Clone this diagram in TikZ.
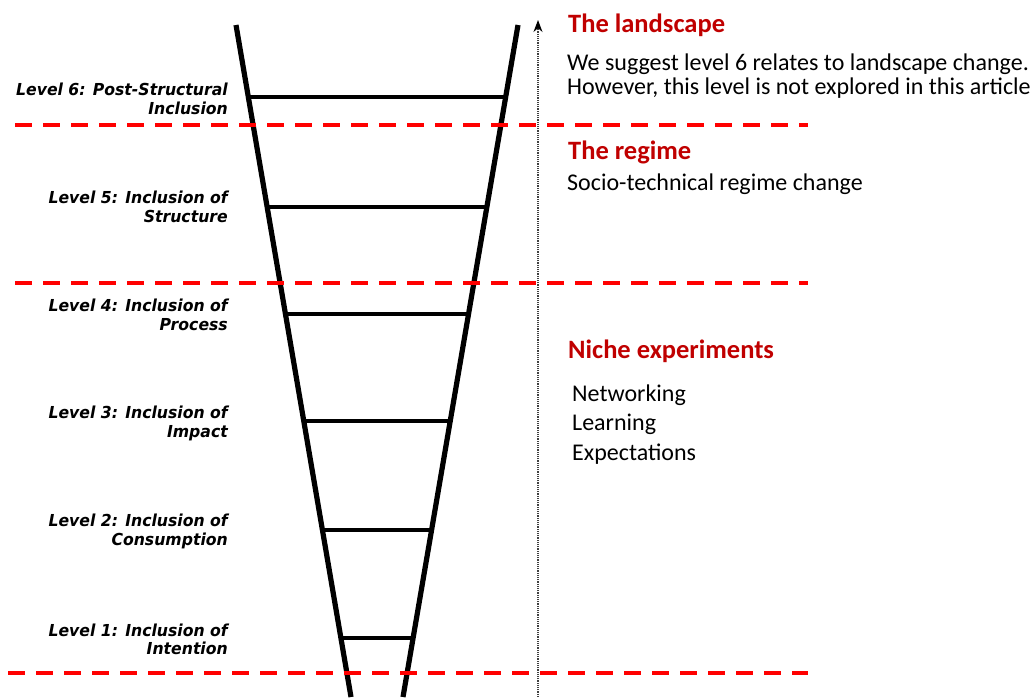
\documentclass[tikz,border=0pt]{standalone}
\usepackage{fontspec}
\setmainfont{Carlito}
\newfontfamily\levelfont[FakeStretch=0.95]{DejaVu Sans}
\usepackage{tikz}
\usetikzlibrary{arrows.meta,calc}
\definecolor{headred}{RGB}{192,0,0}
\definecolor{cutred}{RGB}{255,0,0}

\begin{document}
\begin{tikzpicture}[
  x=1pt,y=-1pt,
  rail/.style={line width=5.2pt},
  rung/.style={line width=4.2pt},
  split/.style={draw=cutred,line width=3.8pt,dash pattern=on 17pt off 11pt},
  level/.style={anchor=east,align=right,inner sep=0pt,
    font=\levelfont\bfseries\itshape\fontsize{16.5}{18.5}\selectfont},
  heading/.style={anchor=base west,inner sep=0pt,text=headred,
    font=\bfseries\fontsize{26.5}{28}\selectfont},
  body/.style={anchor=base west,inner sep=0pt,font=\fontsize{24}{26}\selectfont},
  ]
  \useasboundingbox (0,0) rectangle (1035,697);
  %Rails
  \coordinate (lt) at (236,25);
  \coordinate (lb) at (351,697);
  \coordinate (rt) at (518,25);
  \coordinate (rb) at (403,697);
  \draw[rail] (lt) -- (lb);
  \draw[rail] (rt) -- (rb);
  %Rungs
  \coordinate (l6) at ($(lt)!{72/672}!(lb)$);
  \coordinate (r6) at ($(rt)!{72/672}!(rb)$);
  \coordinate (l5) at ($(lt)!{182/672}!(lb)$);
  \coordinate (r5) at ($(rt)!{182/672}!(rb)$);
  \coordinate (l4) at ($(lt)!{289/672}!(lb)$);
  \coordinate (r4) at ($(rt)!{289/672}!(rb)$);
  \coordinate (l3) at ($(lt)!{396/672}!(lb)$);
  \coordinate (r3) at ($(rt)!{396/672}!(rb)$);
  \coordinate (l2) at ($(lt)!{505/672}!(lb)$);
  \coordinate (r2) at ($(rt)!{505/672}!(rb)$);
  \coordinate (l1) at ($(lt)!{613/672}!(lb)$);
  \coordinate (r1) at ($(rt)!{613/672}!(rb)$);
  \draw[rung] (l6) -- (r6);
  \draw[rung] (l5) -- (r5);
  \draw[rung] (l4) -- (r4);
  \draw[rung] (l3) -- (r3);
  \draw[rung] (l2) -- (r2);
  \draw[rung] (l1) -- (r1);
  %Level labels
  \node[level] (lv6) at (228,99) {Level 6: Post-Structural\\Inclusion};
  \node[level] (lv5) at (228,207) {Level 5: Inclusion of\\Structure};
  \node[level] (lv4) at (228,315) {Level 4: Inclusion of\\Process};
  \node[level] (lv3) at (228,423.5) {Level 3: Inclusion of\\Impact};
  \node[level] (lv2) at (228,531.5) {Level 2: Inclusion of\\Consumption};
  \node[level] (lv1) at (228,639.5) {Level 1: Inclusion of\\Intention};
  %Boundaries
  \coordinate (s1a) at (15,125);
  \coordinate (s1b) at (808,125);
  \coordinate (s2a) at (15,283);
  \coordinate (s2b) at (808,283);
  \coordinate (s3a) at (8,673);
  \coordinate (s3b) at (808,673);
  \draw[split] (s1a) -- (s1b);
  \draw[split] (s2a) -- (s2b);
  \draw[split] (s3a) -- (s3b);
  %Axis
  \coordinate (axbot) at (538,697);
  \coordinate (axtop) at (538,20);
  \draw[densely dotted,black!75,line width=1.2pt,-{Stealth[length=12pt,width=9pt,black]}] (axbot) -- (axtop);
  %Texts
  \node[heading] (land) at (568,32) {The landscape};
  \node[body] (landa) at (567,70) {We suggest level 6 relates to landscape change.};
  \node[body] (landb) at (567,94) {However, this level is not explored in this article};
  \node[heading] (reg) at (568,159) {The regime};
  \node[body] (rega) at (567,190) {Socio-technical regime change};
  \node[heading] (niche) at (568,358) {Niche experiments};
  \node[body] (nicha) at (572,401) {Networking};
  \node[body] (nichb) at (572,430) {Learning};
  \node[body] (nichc) at (572,460) {Expectations};
\end{tikzpicture}
\end{document}
